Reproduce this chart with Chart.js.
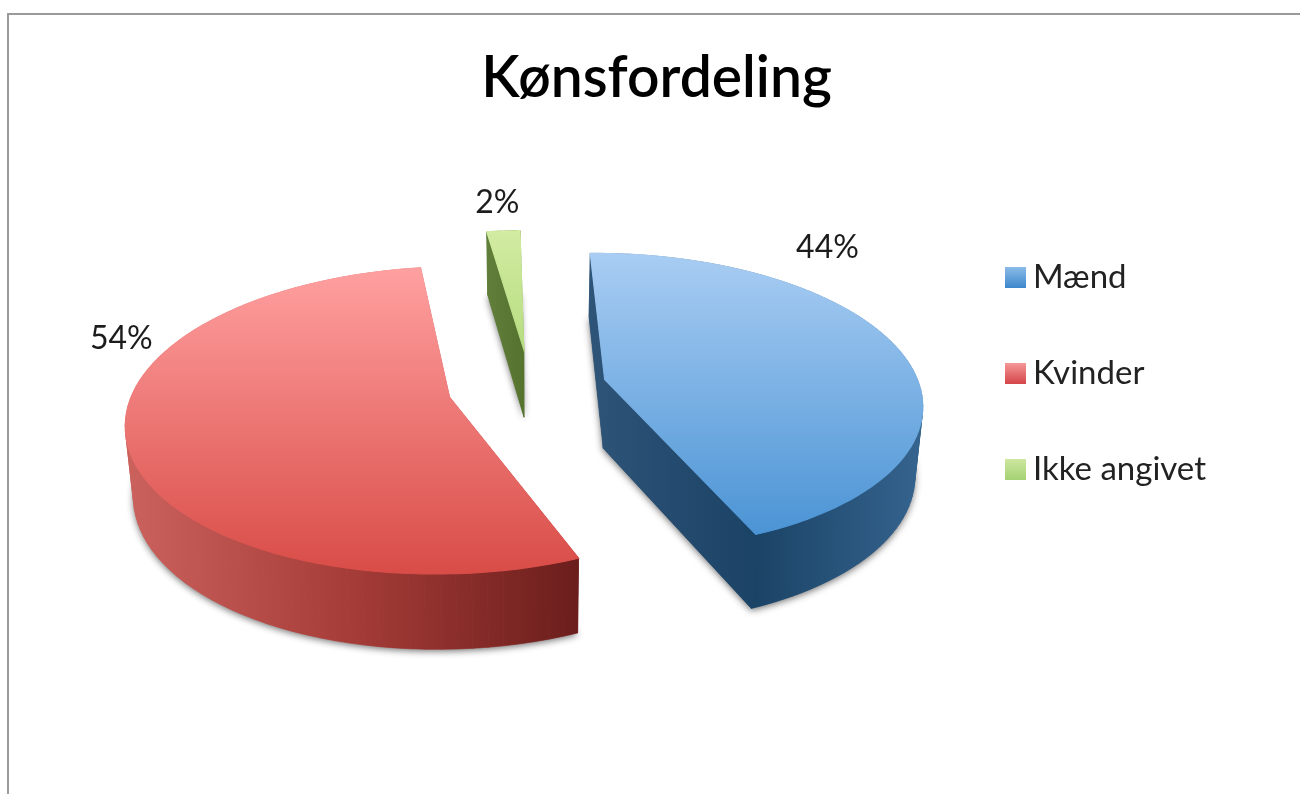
<!DOCTYPE html>
<html>
<head>
<meta charset="utf-8">
<title>Kønsfordeling</title>
<script src="https://cdn.jsdelivr.net/npm/chart.js@4/dist/chart.umd.js"></script>
<style>
  html, body { margin: 0; padding: 0; background: #fff; }
  #frame { position: absolute; left: 7px; top: 13px; width: 1293px; height: 781px;
           border-left: 2px solid #9a9a9a; border-top: 2px solid #9a9a9a; box-sizing: border-box; }
  #wrap { position: absolute; left: 0; top: 0; width: 1300px; height: 794px; }
  canvas { filter: blur(0.5px); }
</style>
</head>
<body>
<div id="frame"></div>
<div id="wrap"><canvas id="canvas" width="1300" height="794"></canvas></div>
<script>
const categories = ["Mænd", "Kvinder", "Ikke angivet"];
const values = [44, 54, 2];
const valueLabels = ["44%", "54%", "2%"];

// colours of each slice: top face (far to near), side wall (left to right)
const topColors = [["#a9cdf3", "#4b94d5"], ["#ffa0a0", "#d94c47"], ["#d2eca2", "#b6dc80"]];
const sideColors = [["#2e5478", "#1b4366", "#35648f"], ["#cb625d", "#a53c38", "#6b1e1c"], ["#617e3a", "#55722f"]];
const swatchColors = [["#8dbdea", "#3f88cc"], ["#f79a9a", "#d5474a"], ["#cfe8a2", "#a5d273"]];

// the flat pie is tilted by a small perspective projection
const RX = 315, RY = 147, PERSP = 0.15, DEPTH = 69, BASE_SHRINK = 0.98;
const PIE_SHIFT_X = 5.5, PIE_SHIFT_Y = -45.5;
const labelOffsets = [[-72, -103], [-5, -100], [-6, -28]];
const FONT = "Lato";

function project(c, X, Y) {
  let s = 1 / (1 - PERSP * Y);
  return { x: c.x + X * RX * s, y: c.y + Y * RY * s, s: s };
}

function lower(c, p) {
  return { x: c.x + (p.x - c.x) * BASE_SHRINK, y: p.y + DEPTH * Math.sqrt(p.s) };
}

function polygon(ctx, pts) {
  ctx.beginPath();
  pts.forEach((p, i) => { if (i == 0) ctx.moveTo(p.x, p.y); else ctx.lineTo(p.x, p.y); });
  ctx.closePath();
}

function sliceOutline(el) {
  let c = { x: el.x + PIE_SHIFT_X, y: el.y + PIE_SHIFT_Y };
  let mid = (el.startAngle + el.endAngle) / 2;
  let e = el.options.offset / el.outerRadius;
  let ox = Math.cos(mid) * e, oy = Math.sin(mid) * e;
  let pts = [project(c, ox, oy)];
  let steps = 80;
  for (let i = 0; i <= steps; i++) {
    let a = el.startAngle + (el.endAngle - el.startAngle) * i / steps;
    pts.push(project(c, ox + Math.cos(a), oy + Math.sin(a)));
  }
  let m = project(c, ox + Math.cos(mid), oy + Math.sin(mid));
  return { center: c, pts: pts, mid: m };
}

function spread(ctx, x0, y0, x1, y1, colors) {
  let g = ctx.createLinearGradient(x0, y0, x1, y1);
  colors.forEach((col, i) => g.addColorStop(i / (colors.length - 1), col));
  return g;
}

const pie3d = {
  id: "pie3d",
  beforeDatasetsDraw(chart) {
    let ctx = chart.ctx;
    let arcs = chart.getDatasetMeta(0).data;
    arcs.forEach((el, n) => {
      let o = sliceOutline(el);
      let top = o.pts;
      let bottom = top.map(p => lower(o.center, p));
      let xs = top.concat(bottom).map(p => p.x), ys = top.map(p => p.y);

      ctx.save();
      // soft shadow thrown by the base
      ctx.shadowColor = "rgba(40,40,40,0.65)";
      ctx.shadowBlur = 7;
      ctx.shadowOffsetY = 2;
      ctx.fillStyle = sideColors[n][0];
      polygon(ctx, bottom);
      ctx.fill();
      ctx.restore();

      // side wall
      let wall = spread(ctx, Math.min(...xs), 0, Math.max(...xs), 0, sideColors[n]);
      ctx.fillStyle = wall;
      ctx.strokeStyle = wall;
      ctx.lineWidth = 0.6;
      for (let i = 0; i < top.length; i++) {
        let j = (i + 1) % top.length;
        polygon(ctx, [top[i], top[j], bottom[j], bottom[i]]);
        ctx.fill();
        ctx.stroke();
      }

      // top face, its stroke hides the seam of the wall behind it
      let face = spread(ctx, 0, Math.min(...ys), 0, Math.max(...ys), topColors[n]);
      ctx.fillStyle = face;
      ctx.strokeStyle = face;
      ctx.lineWidth = 1.2;
      polygon(ctx, top);
      ctx.fill();
      ctx.stroke();
    });
    return false;
  },
  // afterDatasetsDraw is skipped once beforeDatasetsDraw cancels, so labels go here
  afterDraw(chart) {
    let ctx = chart.ctx;
    ctx.save();
    ctx.font = "32px " + FONT;
    ctx.fillStyle = "#1c1c1c";
    ctx.textAlign = "center";
    ctx.textBaseline = "middle";
    chart.getDatasetMeta(0).data.forEach((el, n) => {
      let m = sliceOutline(el).mid;
      ctx.fillText(valueLabels[n], m.x + labelOffsets[n][0], m.y + labelOffsets[n][1]);
    });
    ctx.restore();
  }
};

function swatch(colors) {
  let cv = document.createElement("canvas");
  cv.width = 21; cv.height = 21;
  let c = cv.getContext("2d");
  let g = c.createLinearGradient(0, 0, 0, 21);
  g.addColorStop(0, colors[0]);
  g.addColorStop(1, colors[1]);
  c.fillStyle = g;
  c.fillRect(0, 0, 21, 21);
  return cv;
}

new Chart(document.getElementById("canvas"), {
  type: "pie",
  plugins: [pie3d],
  data: {
    labels: categories,
    datasets: [{
      data: values,
      backgroundColor: swatchColors.map(c => c[1]),
      offset: [61, 66, 66],
      borderWidth: 0
    }]
  },
  options: {
    responsive: false,
    animation: false,
    rotation: -1,
    layout: { padding: { left: 97, right: 84, top: 30, bottom: 78 } },
    plugins: {
      tooltip: { enabled: false },
      title: {
        display: true,
        text: "Kønsfordeling",
        color: "#000",
        font: { family: FONT, size: 57, weight: "600" },
        padding: { top: 14, bottom: 36 }
      },
      legend: {
        position: "right",
        labels: {
          usePointStyle: true,
          pointStyleWidth: 1,
          padding: 63,
          color: "#222",
          font: { family: FONT, size: 33 },
          generateLabels() {
            return categories.map((t, i) => ({ text: t, pointStyle: swatch(swatchColors[i]), fontColor: "#222", index: i, datasetIndex: 0 }));
          }
        }
      }
    }
  }
});
</script>
</body>
</html>
